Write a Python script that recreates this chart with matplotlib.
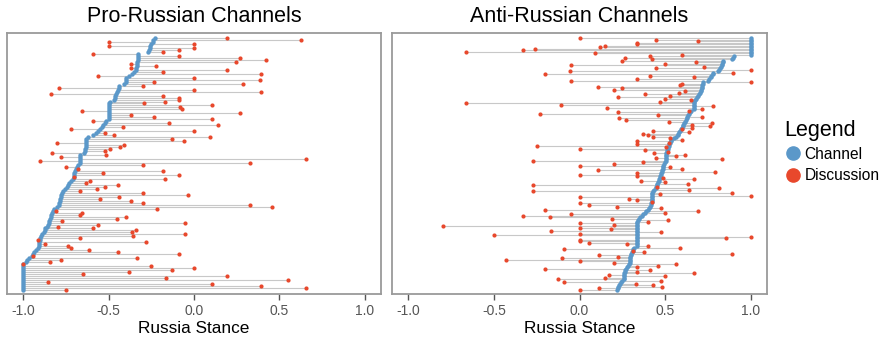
import matplotlib
matplotlib.use("Agg")
import matplotlib.pyplot as plt
from matplotlib.lines import Line2D

plt.rcParams["font.family"] = ["Liberation Sans", "DejaVu Sans"]
plt.rcParams["axes.unicode_minus"] = False

BLUE = "#5b98c9"
RED = "#e8482c"
LINE = "#c8c8c8"

# stance of each channel and of the discussion under it, rows top to bottom
pro_channel = [
    -0.23, -0.24, -0.24, -0.25, -0.255, -0.26, -0.265, -0.27,
    -0.33, -0.33, -0.33, -0.33, -0.335, -0.335, -0.335, -0.34, -0.34, -0.35,
    -0.36, -0.38, -0.40, -0.40, -0.40, -0.41, -0.44, -0.44, -0.445, -0.45,
    -0.455, -0.46, -0.465, -0.47, -0.49, -0.50, -0.50, -0.50, -0.50, -0.50,
    -0.50, -0.50, -0.50, -0.50, -0.515, -0.52, -0.53, -0.54, -0.55, -0.56,
    -0.575, -0.59, -0.62, -0.63, -0.63, -0.63, -0.635, -0.635, -0.64, -0.64,
    -0.645, -0.665, -0.67, -0.67, -0.67, -0.67, -0.68, -0.685, -0.69, -0.695,
    -0.70, -0.70, -0.705, -0.71, -0.72, -0.73, -0.735, -0.745, -0.755, -0.765,
    -0.775, -0.78, -0.78, -0.785, -0.785, -0.79, -0.79, -0.80, -0.82, -0.825,
    -0.83, -0.835, -0.84, -0.845, -0.85, -0.85, -0.855, -0.86, -0.87, -0.875,
    -0.88, -0.89, -0.895, -0.90, -0.90, -0.905, -0.91, -0.91, -0.915, -0.925,
    -0.935, -0.94, -0.95, -0.965, -0.975, -0.985,
    -1.0, -1.0, -1.0, -1.0, -1.0, -1.0, -1.0, -1.0, -1.0, -1.0, -1.0, -1.0, -1.0, -1.0,
]
pro_discussion = [
    0.196, 0.628, -0.50, 0.0, -0.50, 0.0, -0.09, -0.18,
    -0.59, -0.09, 0.268, 0.42, 0.245, -0.37, -0.225, -0.37, 0.196, -0.18,
    0.395, -0.56, 0.0, 0.385, -0.235, 0.288, -0.30, -0.79, 0.0, 0.395,
    -0.84, -0.18, -0.09, -0.09, -0.17, -0.29, 0.107, -0.08, -0.07, -0.655,
    0.268, -0.37, -0.235, 0.107, -0.59, -0.146, 0.14, -0.415, -0.72, 0.0,
    -0.52, -0.47, 0.095, -0.13, -0.06, -0.80, -0.41, -0.435, -0.49, -0.52,
    -0.83, -0.515, -0.78, 0.657, -0.90, 0.327, -0.30, -0.75, -0.68, -0.18,
    -0.53, -0.09, -0.70, -0.17, -0.61, -0.635, -0.447, -0.52, -0.57, -0.67,
    -0.30, -0.035, -0.44, -0.55, -0.37, -0.30, 0.327, 0.457, -0.215, -0.81,
    -0.657, -0.67, -0.40, -0.45, -0.77, -0.05, -0.56, -0.795, -0.59, -0.34,
    -0.36, -0.05, -0.355, -0.67, -0.915, -0.28, -0.875, -0.735, -0.72, -0.617,
    -0.447, -0.087, -0.945, -0.336, -0.777, -0.844,
    -1.0, -0.25, 0.0, -0.128, -0.38, -0.65, 0.196, -0.165, 0.548, -0.857, 0.107, 0.395, 0.657, -0.75,
]

anti_channel = [
    1.0, 1.0, 1.0, 1.0, 1.0, 1.0, 1.0, 1.0, 1.0, 1.0, 1.0, 1.0,
    0.90, 0.895, 0.89, 0.84, 0.835, 0.833, 0.83, 0.828, 0.82, 0.815,
    0.81, 0.78, 0.778, 0.77, 0.765, 0.758, 0.752, 0.72, 0.72, 0.718,
    0.716, 0.714, 0.712, 0.71, 0.705, 0.70, 0.69, 0.686, 0.68, 0.674,
    0.67, 0.668, 0.667, 0.667, 0.667, 0.667, 0.65, 0.643, 0.64, 0.635,
    0.63, 0.625, 0.62, 0.616, 0.612, 0.607, 0.604, 0.597, 0.59, 0.586,
    0.582, 0.577, 0.575, 0.565, 0.55, 0.535, 0.532, 0.528, 0.525, 0.522,
    0.516, 0.514, 0.51, 0.508, 0.505, 0.503, 0.503, 0.503, 0.503, 0.503,
    0.50, 0.495, 0.49, 0.487, 0.485, 0.483, 0.48, 0.478, 0.475, 0.472,
    0.468, 0.465, 0.462, 0.458, 0.454, 0.45, 0.447, 0.444, 0.437, 0.43,
    0.425, 0.425, 0.425, 0.425, 0.425, 0.425, 0.425, 0.42, 0.415, 0.41,
    0.408, 0.40, 0.39, 0.38, 0.37, 0.365, 0.355, 0.35, 0.34, 0.336,
    0.335, 0.335, 0.335, 0.335, 0.335, 0.335, 0.335, 0.335, 0.335, 0.335,
    0.335, 0.335, 0.335, 0.335, 0.335, 0.335, 0.32, 0.312, 0.31, 0.305,
    0.30, 0.298, 0.296, 0.296, 0.296, 0.296, 0.295, 0.29, 0.283, 0.278,
    0.273, 0.268, 0.265, 0.26, 0.26, 0.26, 0.26, 0.258, 0.25, 0.24,
    0.235, 0.23, 0.227, 0.222, 0.218,
]
anti_discussion = [
    0.0, 0.446, 0.69, 0.333, 0.333, 0.146, 0.12, -0.26, -0.33, -0.665, 0.09, 0.598,
    0.413, 0.265, 0.425, 0.25, 0.678, 0.5, -0.047, 0.727, 0.446, 1.0,
    -0.058, 0.895, -0.2, 0.41, 0.667, 0.335, -0.047, 1.0, 0.6, 0.585,
    0.105, 0.25, 0.2, 0.614, 0.58, 0.382, 0.528, 0.224, 0.5, 0.65,
    0.468, -0.665, -0.11, 0.778, 0.162, 0.713, 0.637, 0.226, -0.23, 0.456,
    0.713, 0.232, 0.273, 0.525, 0.772, 0.655, 0.76, 0.658, 0.598, 0.43,
    0.639, 0.368, 0.398, 0.43, 0.53, 0.598, 0.335, 0.522, 0.335, -0.25,
    0.503, 0.0, 0.384, 0.517, 0.433, 0.616, 0.565, 0.446, 0.832, -0.27,
    0.368, 0.2, 0.0, 0.526, 0.598, 0.11, 0.79, 0.335, 0.0, 0.335,
    0.49, 0.668, 0.36, 0.5, 0.633, -0.27, 0.452, 0.817, 0.637, -0.27,
    0.893, 0.468, 1.0, 0.0, 0.288, 0.335, 0.425, 0.0, 0.053, 0.218,
    0.475, -0.2, 0.69, 0.5, -0.047, -0.33, -0.17, 0.189, 0.515, 0.4,
    0.0, 0.2, -0.8, 0.0, 0.181, -0.166, 0.473, 0.0, -0.497, 1.0,
    0.856, 0.0, 0.0, 0.053, 0.275, 0.4, 0.589, -0.09, 0.312, 0.374,
    0.889, 0.113, 0.226, -0.1, -0.427, 0.0, 0.199, 0.565, 0.456, 0.335,
    -0.2, 0.41, 0.335, 0.668, 0.17, 0.5, 0.146, -0.123, 0.475, -0.09,
    0.331, 0.431, 0.484, 0.113, 0.0,
]

x_ticks = [-1.0, -0.5, 0.0, 0.5, 1.0]
x_ticklabels = ["-1.0", "-0.5", "0.0", "0.5", "1.0"]


def draw_panel(ax, channel, discussion, title):
    n = len(channel)
    rows = list(range(n))
    lo = [min(c, d) for c, d in zip(channel, discussion)]
    hi = [max(c, d) for c, d in zip(channel, discussion)]
    ax.hlines(rows, lo, hi, color=LINE, lw=0.8, zorder=1)
    ax.scatter(channel, rows, s=10, color=BLUE, lw=0, zorder=2)
    ax.scatter(discussion, rows, s=9, color=RED, lw=0, zorder=3)

    ax.set_xlim(-1.095, 1.095)
    ax.set_ylim((n - 1) * (1 + 4 / 252), -(n - 1) * 5 / 252)
    ax.set_yticks([])
    ax.set_xticks(x_ticks)
    ax.set_xticklabels(x_ticklabels)
    ax.tick_params(axis="x", length=4, width=1, color="#555555",
                   labelcolor="#555555", labelsize=10, pad=3)
    for sp in ax.spines.values():
        sp.set_color("#9a9a9a")
        sp.set_linewidth(1.3)
    ax.set_title(title, fontsize=15.5, pad=8)
    ax.set_xlabel("Russia Stance", fontsize=12.4, labelpad=2)


fig = plt.figure(figsize=(8.92, 3.41), dpi=100)
ax1 = fig.add_axes([0.0078, 0.1378, 0.4193, 0.7654])
ax2 = fig.add_axes([0.4395, 0.1378, 0.4204, 0.7654])

draw_panel(ax1, pro_channel, pro_discussion, "Pro-Russian Channels")
draw_panel(ax2, anti_channel, anti_discussion, "Anti-Russian Channels")

handles = [
    Line2D([], [], marker="o", ls="", color=BLUE, markersize=9.5, label="Channel"),
    Line2D([], [], marker="o", ls="", color=RED, markersize=9.5, label="Discussion"),
]
leg = fig.legend(handles=handles, title="Legend", loc="center left",
                 bbox_to_anchor=(0.872, 0.556), frameon=False, fontsize=11.2,
                 title_fontsize=15.5, handletextpad=0.1, labelspacing=0.4,
                 borderaxespad=0, handlelength=1.2)
leg._legend_box.align = "left"

fig.savefig("out.png", dpi=100)
